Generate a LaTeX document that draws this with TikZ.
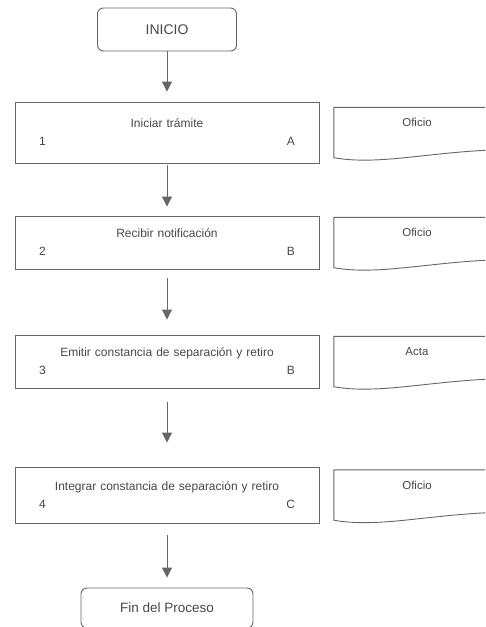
\documentclass[tikz,border=0pt]{standalone}
\usepackage{fontspec}
\setmainfont{Liberation Sans}
\usetikzlibrary{arrows.meta}
\definecolor{linegray}{HTML}{666666}
\definecolor{textgray}{HTML}{474747}
\tikzstyle{terminal} = [rectangle, draw=linegray, line width=0.9pt, rounded corners=6pt, text=textgray,
font=\fontsize{14}{16}\selectfont, minimum height=43pt]
\tikzstyle{block} = [rectangle, draw=linegray, line width=0.9pt, text=textgray, text width=256pt,
inner xsep=24pt, inner ysep=0pt, minimum height=54pt, align=center, font=\fontsize{12}{18}\selectfont]
\tikzstyle{doc} = [rectangle, minimum width=166pt, inner ysep=0pt, text height=19pt, text depth=31pt,
text=textgray, font=\fontsize{11.5}{14}\selectfont, node distance=250pt]
\tikzstyle{docline} = [draw=linegray, line width=0.9pt]
\tikzstyle{line} = [draw=linegray, line width=1pt, -{Triangle[width=10pt,length=10pt]}]

\begin{document}
\begin{tikzpicture}[x=1pt, y=1pt]
		\clip (0,0) rectangle (485,-627);
		\node [terminal, minimum width=139pt] at (167,-29.5) (inicio) {INICIO};
		\node [block, below of=inicio, node distance=103pt, minimum height=61pt] (iniciar)
		{Iniciar trámite\\\makebox[\hsize]{1\hfill A}};
		\node [block, below of=iniciar, node distance=110pt, minimum height=53pt] (recibir)
		{Recibir notificación\\\makebox[\hsize]{2\hfill B}};
		\node [block, below of=recibir, node distance=119pt, minimum height=53pt] (emitir)
		{Emitir constancia de separación y retiro\\\makebox[\hsize]{3\hfill B}};
		\node [block, below of=emitir, node distance=133.5pt, minimum height=56pt] (integrar)
		{Integrar constancia de separación y retiro\\\makebox[\hsize]{4\hfill C}};
		\node [terminal, below of=integrar, node distance=113pt, minimum width=172pt, minimum height=40pt,
		font=\fontsize{13.5}{16}\selectfont] (fin) {Fin del Proceso};
		% documentos
		\node [doc, right of=iniciar] (iniciardoc) {Oficio};
		\node [doc, right of=recibir] (recibirdoc) {Oficio};
		\node [doc, right of=emitir] (emitirdoc) {Acta};
		\node [doc, right of=integrar] (integrardoc) {Oficio};
		\foreach \d in {iniciardoc, recibirdoc, emitirdoc, integrardoc}
			\draw [docline] ([yshift=8pt]\d.south east) -- (\d.north east) -- (\d.north west) -- (\d.south west)
			.. controls +(45,-8) and +(-71,-2) .. ([yshift=8pt]\d.south east);
		% flechas
		\path [line, shorten >=10pt] (inicio) -- (iniciar);
		\path [line, shorten <=2pt, shorten >=9pt] (iniciar) -- (recibir);
		\path [line, shorten <=9pt, shorten >=15pt] (recibir) -- (emitir);
		\path [line, shorten <=14pt, shorten >=24pt] (emitir) -- (integrar);
		\path [line, shorten <=12pt, shorten >=10pt] (integrar) -- (fin);
	\end{tikzpicture}
\end{document}
